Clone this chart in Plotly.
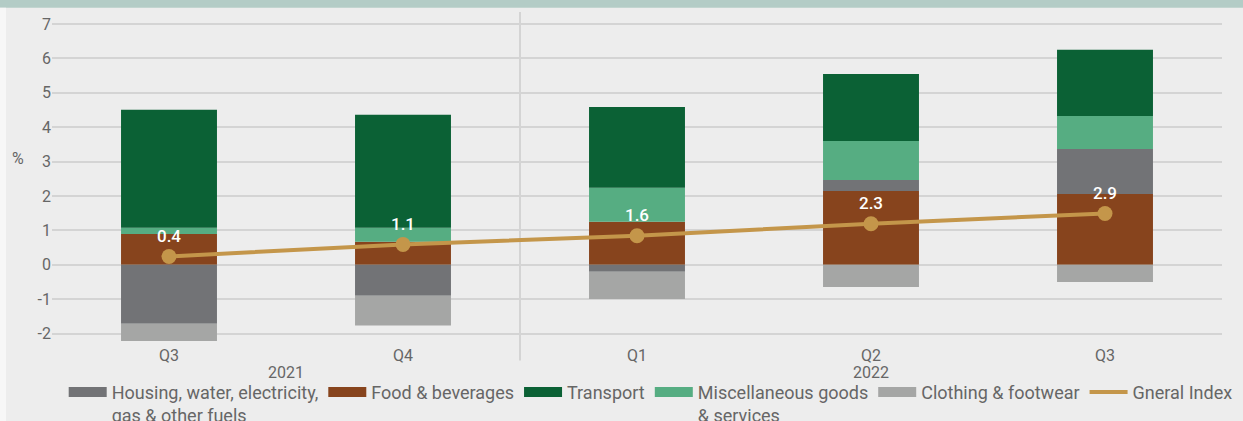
import plotly.graph_objects as go

years = ["2021", "2021", "2022", "2022", "2022"]
quarters = ["Q3", "Q4", "Q1", "Q2", "Q3"]

food = [0.90, 0.67, 1.25, 2.15, 2.06]
housing = [-1.71, -0.90, -0.20, 0.32, 1.31]
misc = [0.18, 0.41, 0.99, 1.13, 0.96]
transport = [3.43, 3.28, 2.35, 1.95, 1.92]
clothing = [-0.50, -0.86, -0.79, -0.64, -0.50]
general_index = [0.4, 1.1, 1.6, 2.3, 2.9]

tick_vals = [-2, -1, 0, 1, 2, 3, 4, 5, 6, 7]
tick_text = ["-2", "-1", "0", "1", "2", "3", "4", "5", "6", "7"]

C_HOUSING = "#727376"
C_FOOD = "#87441D"
C_TRANSPORT = "#0B6135"
C_MISC = "#56AD82"
C_CLOTHING = "#A5A6A5"
C_INDEX = "#C4964A"
TXT = "#666666"
FONT = "Roboto"

periods = [f"{y} {q}" for y, q in zip(years, quarters)]
fig = go.Figure()

series = [
    ("Food & beverages", food, C_FOOD, 2),
    ("Housing, water, electricity,<br>gas & other fuels", housing, C_HOUSING, 1),
    ("Miscellaneous goods<br>& services", misc, C_MISC, 4),
    ("Transport", transport, C_TRANSPORT, 3),
    ("Clothing & footwear", clothing, C_CLOTHING, 5),
]
for name, vals, col, rank in series:
    fig.add_trace(go.Bar(x=periods, y=vals, name=name, marker=dict(color=col, line=dict(width=0)),
                         showlegend=False, hoverinfo="skip"))
    # legend entry drawn as a wide swatch
    fig.add_trace(go.Scatter(x=[None], y=[None], mode="lines", name=name,
                             line=dict(color=col, width=10), legendrank=rank))

fig.add_trace(go.Scatter(
    x=periods, y=general_index, yaxis="y2", mode="lines+markers+text",
    line=dict(color=C_INDEX, width=4), marker=dict(color=C_INDEX, size=15),
    text=[f"{v:.1f}" for v in general_index], textposition="top center",
    textfont=dict(color="white", size=17, family=FONT, weight=500),
    showlegend=False, name="Gneral Index"))
fig.add_trace(go.Scatter(
    x=[None], y=[None], mode="lines", line=dict(color=C_INDEX, width=4),
    name="Gneral Index", legendrank=6))

# year group labels, centred under each group of quarters
for yr in sorted(set(years)):
    idx = [i for i, y in enumerate(years) if y == yr]
    fig.add_annotation(text=yr, xref="x", yref="paper", x=sum(idx) / len(idx), y=-0.085,
                       yanchor="middle", showarrow=False,
                       font=dict(size=16, color=TXT, family=FONT))

n_first = years.count("2021")
fig.add_shape(type="line", xref="paper", yref="paper",
              x0=n_first / len(years), x1=n_first / len(years), y0=-0.05, y1=1.0,
              line=dict(color="#D4D4D4", width=2), layer="below")
fig.add_shape(type="rect", xref="paper", yref="paper", x0=-0.1, x1=1.1, y0=1.013, y1=1.1,
              fillcolor="#B3CCC6", line=dict(width=0), layer="below")
fig.add_shape(type="rect", xref="paper", yref="paper", x0=-0.1, x1=-0.0393, y0=-0.3, y1=1.013,
              fillcolor="#F7F7F7", line=dict(width=0), layer="below")

fig.add_annotation(text="%", xref="paper", yref="paper", x=-0.029, y=0.56, xanchor="center",
                   showarrow=False, font=dict(size=16, color=TXT, family=FONT))

fig.update_layout(
    width=1243, height=421,
    margin=dict(l=52, r=21, t=12, b=77, autoexpand=False),
    paper_bgcolor="#EDEDED", plot_bgcolor="#EDEDED",
    barmode="relative", bargap=0.59,
    font=dict(family=FONT, color=TXT, size=16),
    xaxis=dict(type="category", tickvals=periods, ticktext=quarters, showgrid=False,
               zeroline=False, showline=False, ticks="", tickfont=dict(size=16, color=TXT)),
    yaxis=dict(range=[-2.3, 7.35], tickvals=tick_vals, ticktext=tick_text,
               showgrid=True, gridcolor="#D4D4D4", gridwidth=2,
               zeroline=True, zerolinecolor="#D4D4D4", zerolinewidth=2,
               tickfont=dict(size=16, color=TXT), ticks=""),
    yaxis2=dict(overlaying="y", range=[-4.69, 14.61], visible=False),
    legend=dict(orientation="h", x=0.01, y=-0.09, xanchor="left", yanchor="top",
                valign="top", font=dict(size=18, color=TXT, family=FONT),
                bgcolor="rgba(0,0,0,0)", tracegroupgap=0, itemwidth=38),
    showlegend=True,
)

fig.write_html("out.html", config={"displayModeBar": False},
               post_script="document.body.style.margin='0';")
